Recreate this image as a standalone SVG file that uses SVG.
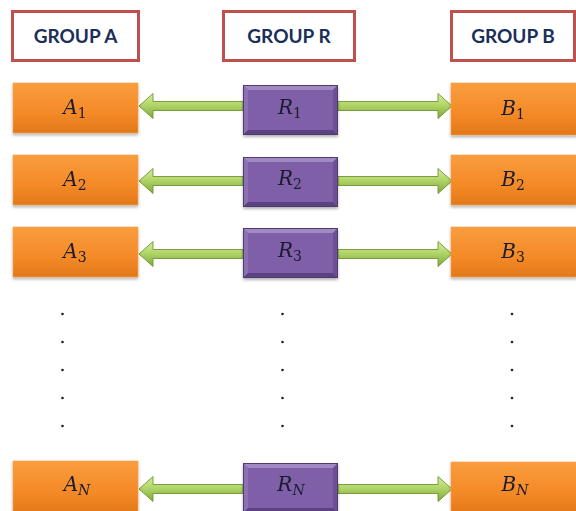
<svg xmlns="http://www.w3.org/2000/svg" width="576" height="511" viewBox="0 0 576 511">
<defs>
<linearGradient id="gOr" x1="0" y1="0" x2="0" y2="1">
<stop offset="0" stop-color="#fa9d3e"/>
<stop offset="0.6" stop-color="#f48a27"/>
<stop offset="1" stop-color="#e27819"/>
</linearGradient>
<linearGradient id="gGr" x1="0" y1="0" x2="0" y2="1">
<stop offset="0" stop-color="#d6ec9a"/>
<stop offset="0.45" stop-color="#b2d66a"/>
<stop offset="1" stop-color="#7ea83a"/>
</linearGradient>
<filter id="sh" x="-10%" y="-10%" width="120%" height="130%">
<feDropShadow dx="0" dy="2" stdDeviation="1.5" flood-color="#000" flood-opacity="0.3"/>
</filter>
<g id="rb">
<rect x="0" y="0" width="95" height="50" fill="#7f60a8"/>
<polygon points="0,0 95,0 90,5 5,5" fill="#a189c4"/>
<polygon points="0,0 5,5 5,45 0,50" fill="#8c70b3"/>
<polygon points="95,0 95,50 90,45 90,5" fill="#6c5094"/>
<polygon points="0,50 5,45 90,45 95,50" fill="#5c4282"/>
<rect x="0.5" y="0.5" width="94" height="49" fill="none" stroke="#4f3a6e" stroke-width="1"/>
</g>
</defs>
<style>
.hdr{fill:#fff;stroke:#c0504d;stroke-width:3}
.ht{font-family:Lato,"Open Sans",sans-serif;font-weight:700;font-size:19px;fill:#1b2f5a;text-anchor:middle}
.ob{fill:url(#gOr);stroke:#f0a050;stroke-width:0.6}
.lb{font-family:"DejaVu Serif","Liberation Serif",serif;font-style:italic;font-size:20px;fill:#1a1a2e;text-anchor:middle}
.sb{font-style:normal;font-size:14px}
.si{font-size:14px}
.ar{fill:url(#gGr);stroke:#6f9433;stroke-width:0.9}
.dot{fill:#222}
</style>

<g id="groupA-header"><rect class="hdr" x="12.5" y="11.5" width="126" height="49"/><text class="ht" x="75.5" y="42.5">GROUP A</text></g>
<g id="groupR-header"><rect class="hdr" x="223.5" y="11.5" width="131" height="49"/><text class="ht" x="289" y="42.5">GROUP R</text></g>
<g id="groupB-header"><rect class="hdr" x="451.5" y="11.5" width="123" height="49"/><text class="ht" x="513" y="42.5">GROUP B</text></g>

<g id="connectors">
<polygon class="ar" points="139,106 153,93.5 153,101.5 243,101.5 243,110.5 153,110.5 153,118.5"/>
<polygon class="ar" points="452,106 438,93.5 438,101.5 338,101.5 338,110.5 438,110.5 438,118.5"/>
<polygon class="ar" points="139,181 153,168.5 153,176.5 243,176.5 243,185.5 153,185.5 153,193.5"/>
<polygon class="ar" points="452,181 438,168.5 438,176.5 338,176.5 338,185.5 438,185.5 438,193.5"/>
<polygon class="ar" points="139,254 153,241.5 153,249.5 243,249.5 243,258.5 153,258.5 153,266.5"/>
<polygon class="ar" points="452,254 438,241.5 438,249.5 338,249.5 338,258.5 438,258.5 438,266.5"/>
<polygon class="ar" points="139,489 153,476.5 153,484.5 243,484.5 243,493.5 153,493.5 153,501.5"/>
<polygon class="ar" points="452,489 438,476.5 438,484.5 338,484.5 338,493.5 438,493.5 438,501.5"/>
</g>

<g id="A1" filter="url(#sh)"><rect class="ob" x="13" y="83" width="125" height="50"/><text class="lb" x="75" y="114">A<tspan class="sb" dy="4">1</tspan></text></g>
<g id="A2" filter="url(#sh)"><rect class="ob" x="13" y="155" width="125" height="50"/><text class="lb" x="75" y="186">A<tspan class="sb" dy="4">2</tspan></text></g>
<g id="A3" filter="url(#sh)"><rect class="ob" x="13" y="227" width="125" height="50"/><text class="lb" x="75" y="258">A<tspan class="sb" dy="4">3</tspan></text></g>
<g id="AN" filter="url(#sh)"><rect class="ob" x="13" y="461" width="125" height="52"/><text class="lb" x="77" y="491">A<tspan class="si" dy="4">N</tspan></text></g>

<g id="R1" filter="url(#sh)"><use href="#rb" x="243" y="85"/><text class="lb" x="290" y="114">R<tspan class="sb" dy="4">1</tspan></text></g>
<g id="R2" filter="url(#sh)"><use href="#rb" x="243" y="157"/><text class="lb" x="290" y="185">R<tspan class="sb" dy="4">2</tspan></text></g>
<g id="R3" filter="url(#sh)"><use href="#rb" x="243" y="228"/><text class="lb" x="290" y="257">R<tspan class="sb" dy="4">3</tspan></text></g>
<g id="RN" filter="url(#sh)"><use href="#rb" x="243" y="463"/><text class="lb" x="291" y="491">R<tspan class="si" dy="4">N</tspan></text></g>

<g id="B1" filter="url(#sh)"><rect class="ob" x="451" y="83" width="126" height="52"/><text class="lb" x="513" y="115">B<tspan class="sb" dy="4">1</tspan></text></g>
<g id="B2" filter="url(#sh)"><rect class="ob" x="451" y="155" width="126" height="50"/><text class="lb" x="513" y="186">B<tspan class="sb" dy="4">2</tspan></text></g>
<g id="B3" filter="url(#sh)"><rect class="ob" x="451" y="227" width="126" height="50"/><text class="lb" x="513" y="258">B<tspan class="sb" dy="4">3</tspan></text></g>
<g id="BN" filter="url(#sh)"><rect class="ob" x="451" y="462" width="126" height="51"/><text class="lb" x="515" y="491">B<tspan class="si" dy="4">N</tspan></text></g>

<g id="dots">
<circle class="dot" cx="62.5" cy="314" r="1.3"/><circle class="dot" cx="62.5" cy="342" r="1.3"/><circle class="dot" cx="62.5" cy="370" r="1.3"/><circle class="dot" cx="62.5" cy="398" r="1.3"/><circle class="dot" cx="62.5" cy="426" r="1.3"/>
<circle class="dot" cx="282.5" cy="314" r="1.3"/><circle class="dot" cx="282.5" cy="342" r="1.3"/><circle class="dot" cx="282.5" cy="370" r="1.3"/><circle class="dot" cx="282.5" cy="398" r="1.3"/><circle class="dot" cx="282.5" cy="426" r="1.3"/>
<circle class="dot" cx="512" cy="314" r="1.3"/><circle class="dot" cx="512" cy="342" r="1.3"/><circle class="dot" cx="512" cy="370" r="1.3"/><circle class="dot" cx="512" cy="398" r="1.3"/><circle class="dot" cx="512" cy="426" r="1.3"/>
</g>
</svg>
